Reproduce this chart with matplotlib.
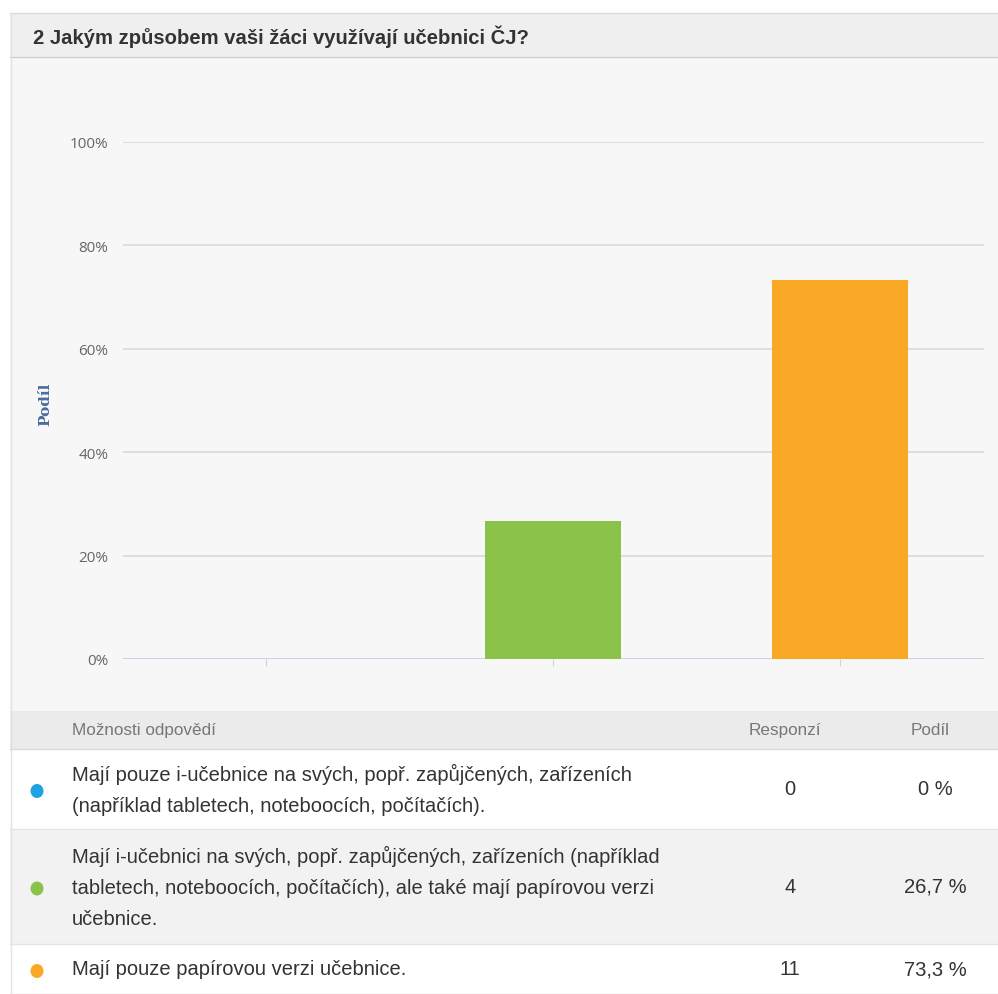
import matplotlib
matplotlib.use('Agg')
import matplotlib.pyplot as plt
from matplotlib.patches import Rectangle, Ellipse

# Data
title = '2 Jakým způsobem vaši žáci využívají učebnici ČJ?'
categories = [
    'Mají pouze i-učebnice na svých, popř. zapůjčených, zařízeních\n(například tabletech, noteboocích, počítačích).',
    'Mají i-učebnici na svých, popř. zapůjčených, zařízeních (například\ntabletech, noteboocích, počítačích), ale také mají papírovou verzi\nučebnice.',
    'Mají pouze papírovou verzi učebnice.',
]
responses = [0, 4, 11]
shares = [0.0, 26.7, 73.3]
share_labels = ['0 %', '26,7 %', '73,3 %']
colors = ['#1ea2e4', '#8bc34a', '#f9a825']
y_ticks = [0, 20, 40, 60, 80, 100]

W, H = 998, 995
fig = plt.figure(figsize=(W / 100, H / 100), dpi=100)
fig.patch.set_facecolor('white')

def fx(x):
    return x / W

def fy(y):
    return 1 - y / H

def rect(x0, y0, x1, y1, fc, z=-2):
    fig.patches.append(Rectangle((fx(x0), fy(y1)), fx(x1) - fx(x0), fy(y0) - fy(y1),
                                 transform=fig.transFigure, facecolor=fc, edgecolor='none',
                                 linewidth=0, zorder=z))

def hline(y, x0, x1, color, lw=1):
    fig.add_artist(plt.Line2D([fx(x0), fx(x1)], [fy(y), fy(y)], transform=fig.transFigure,
                              color=color, linewidth=lw, zorder=-1))

FONT = ['Liberation Sans', 'DejaVu Sans']

# header
rect(10, 14, 998, 58, '#efefef')
hline(14, 10, 998, '#dcdcdc')
hline(58, 10, 998, '#cfcfcf')
fig.text(fx(33), fy(37), title, fontsize=14.6, fontweight='bold', color='#333333',
         family=FONT, va='center', ha='left')

# chart panel
rect(10, 58, 998, 712, '#f7f7f7')
fig.add_artist(plt.Line2D([fx(10.5), fx(10.5)], [fy(14), fy(995)], transform=fig.transFigure,
                          color='#e2e2e2', linewidth=1, zorder=-1))

ax = fig.add_axes([fx(122.5), fy(660), fx(983.5) - fx(122.5), fy(143) - fy(660)])
ax.set_facecolor('none')
x = list(range(len(categories)))
ax.bar(x, shares, width=0.477, color=colors, zorder=3)
ax.set_xlim(-0.5, len(categories) - 0.5)
ax.set_ylim(0, 100)
ax.set_yticks(y_ticks)
ax.set_yticklabels([f'{t}%' for t in y_ticks], color='#666666', fontsize=11,
                   family=['Open Sans', 'DejaVu Sans'])
ax.yaxis.grid(True, color='#d6d6d6', linewidth=1.1, zorder=0)
ax.tick_params(axis='y', length=0, pad=10)
ax.set_xticks(x)
ax.set_xticklabels([])
ax.tick_params(axis='x', length=5, color='#c8d3e6', direction='out')
for s in ax.spines.values():
    s.set_visible(False)
ax.axhline(0, color='#c8d3e6', linewidth=1.3, zorder=2)
fig.text(fx(45), fy(404), 'Podíl', rotation=90, fontsize=11, fontweight='bold', color='#4a6b9d',
         family=['DejaVu Serif'], ha='center', va='center')

# table
rect(10, 712, 998, 750, '#ebebeb')
hline(750, 10, 998, '#dadada')
fig.text(fx(72), fy(731), 'Možnosti odpovědí', fontsize=12.3, color='#777777', family=FONT,
         va='center')
fig.text(fx(785), fy(731), 'Responzí', fontsize=12.3, color='#777777', family=FONT,
         va='center', ha='center')
fig.text(fx(930), fy(731), 'Podíl', fontsize=12.3, color='#777777', family=FONT,
         va='center', ha='center')

rows = [(750, 830, 'white'), (830, 945, '#f2f2f2'), (945, 995, 'white')]
for i, (y0, y1, bg) in enumerate(rows):
    rect(10, y0, 998, y1, bg)
    hline(y1, 10, 998, '#e4e4e4')
    yc = (y0 + y1) / 2
    fig.patches.append(Ellipse((fx(37), fy(yc + 2)), 13 / W, 14 / H, transform=fig.transFigure,
                               facecolor=colors[i], edgecolor='none', zorder=3))
    fig.text(fx(72), fy(yc), categories[i], fontsize=14.5, color='#333333', family=FONT,
             va='center', ha='left', linespacing=1.8)
    fig.text(fx(790), fy(yc), str(responses[i]), fontsize=14.5, color='#333333', family=FONT,
             va='center', ha='center')
    fig.text(fx(935), fy(yc), share_labels[i], fontsize=14.5, color='#333333', family=FONT,
             va='center', ha='center')

fig.savefig('out.png', dpi=100, facecolor='white')
